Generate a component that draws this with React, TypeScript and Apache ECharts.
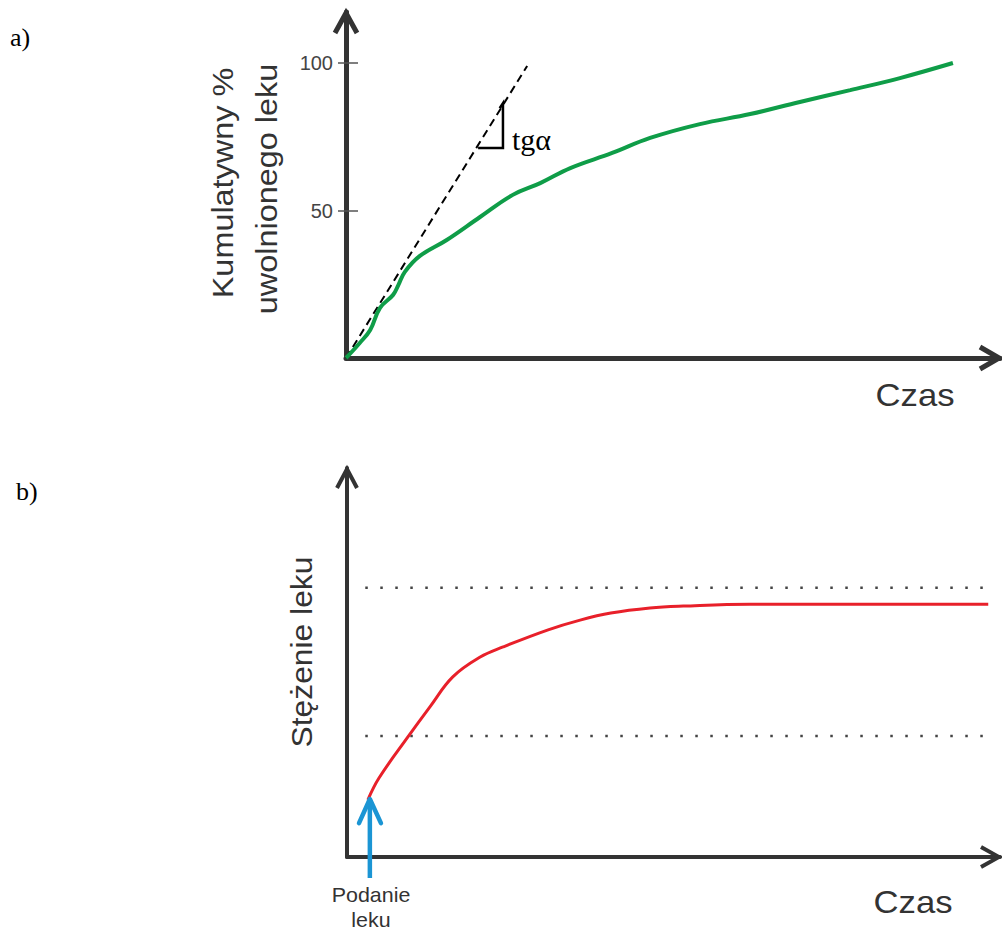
import React, { useEffect, useRef } from "react";
import * as echarts from "echarts";

// a) cumulative % of drug released over time
const releaseTime = [0, 2.1, 3.7, 5.2, 7.2, 8.0, 9.0, 11.3, 15.4, 20.5, 25.5, 29.7, 34.3, 40.7, 46.5, 54.1, 61.8, 69.4, 77.1, 84.7, 92.8];
const releasePct = [0, 5.1, 9.5, 17, 21.4, 24.7, 29.2, 34.6, 40, 47.8, 55.3, 59.3, 64.4, 69.5, 74.6, 79.3, 82.7, 86.8, 90.8, 94.9, 100];
const tangentTime = [0, 27.7];
const tangentPct = [0, 99];
const slopeMarkTime = [23.5, 24.0, 24.0, 20.2];
const slopeMarkPct = [84.7, 86.4, 71.2, 71.2];
const releaseTicks = [50, 100];

// b) drug concentration over time
const concTime = [3.2, 4.9, 9.3, 12.7, 16.2, 20.4, 23.9, 30.8, 35.7, 40.4, 46.4, 51.5, 61.7, 77.0, 98.2];
const concLevel = [14.7, 20.3, 30.8, 38.6, 46.3, 51.4, 54.0, 58.4, 60.9, 62.7, 64.0, 64.5, 65.0, 65.0, 65.0];
const levelLines = [31.1, 69.2];
const levelSpan = [2.8, 99.2];
const doseShaftTime = [3.5, 3.5];
const doseShaftLevel = [-5.4, 14.7];
const doseHeadTime = [1.84, 3.5, 5.2];
const doseHeadLevel = [8.7, 14.9, 8.7];

const zip = (xs: number[], ys: number[]) => xs.map((x, i) => [x, ys[i]]);

const AXIS = "#333333";
const SANS = "'Liberation Sans', Arial, sans-serif";
const SERIF = "'Liberation Serif', 'Times New Roman', serif";

const label = (x: number, y: number, text: string, size: number, family: string, extra: any = {}) => ({
  type: "text",
  x,
  y,
  ...extra,
  style: {
    text,
    fontSize: size,
    fontFamily: family,
    fill: extra.fill || "#333",
    textAlign: extra.align || "center",
    textVerticalAlign: "middle",
  },
});

export default function App() {
  const ref = useRef<HTMLDivElement>(null);

  useEffect(() => {
    if (!ref.current) return;
    const chart = echarts.init(ref.current, null, { renderer: "svg" });

    const hiddenAxisParts = {
      axisTick: { show: false },
      axisLabel: { show: false },
      splitLine: { show: false },
    };

    const option: any = {
      animation: false,
      backgroundColor: "#ffffff",
      grid: [
        { left: 346, top: 12, width: 654, height: 346 },
        { left: 347, top: 468, width: 653, height: 389 },
      ],
      xAxis: [
        {
          gridIndex: 0, type: "value", min: 0, max: 100,
          axisLine: { show: true, onZero: false, lineStyle: { color: AXIS, width: 5 } },
          ...hiddenAxisParts,
        },
        {
          gridIndex: 1, type: "value", min: 0, max: 100,
          axisLine: { show: true, onZero: false, lineStyle: { color: AXIS, width: 4 } },
          ...hiddenAxisParts,
        },
      ],
      yAxis: [
        {
          gridIndex: 0, type: "value", min: 0, max: 117.3,
          axisLine: { show: true, onZero: false, lineStyle: { color: AXIS, width: 5 } },
          axisTick: { show: true, customValues: releaseTicks, length: 8, lineStyle: { color: "#555", width: 1.5 } },
          axisLabel: { show: true, customValues: releaseTicks, margin: 13, fontSize: 20, color: "#444", fontFamily: SANS },
          splitLine: { show: false },
        },
        {
          gridIndex: 0, type: "value", min: 0, max: 117.3, position: "left",
          axisLine: { show: false },
          axisTick: { show: true, inside: true, customValues: releaseTicks, length: 12, lineStyle: { color: "#555", width: 1.5 } },
          axisLabel: { show: false },
          splitLine: { show: false },
        },
        {
          gridIndex: 1, type: "value", min: 0, max: 100,
          axisLine: { show: true, onZero: false, lineStyle: { color: AXIS, width: 4 } },
          ...hiddenAxisParts,
        },
      ],
      series: [
        {
          type: "line", xAxisIndex: 0, yAxisIndex: 0, data: zip(tangentTime, tangentPct),
          symbol: "none", lineStyle: { color: "#000", width: 2, type: [8, 5] }, z: 3,
        },
        {
          type: "line", xAxisIndex: 0, yAxisIndex: 0, data: zip(releaseTime, releasePct),
          symbol: "none", smooth: 0.4, lineStyle: { color: "#0f9d48", width: 4 }, z: 4,
        },
        {
          type: "line", xAxisIndex: 0, yAxisIndex: 0, data: zip(slopeMarkTime, slopeMarkPct),
          symbol: "none", lineStyle: { color: "#000", width: 2.5, join: "miter" }, z: 4,
        },
        ...levelLines.map((lv) => ({
          type: "line", xAxisIndex: 1, yAxisIndex: 2,
          data: zip(levelSpan, [lv, lv]),
          symbol: "none", lineStyle: { color: "#444", width: 2.5, type: [2.5, 12.5] }, z: 2,
        })),
        {
          type: "line", xAxisIndex: 1, yAxisIndex: 2, data: zip(concTime, concLevel),
          symbol: "none", smooth: 0.4, lineStyle: { color: "#e8202a", width: 3 }, z: 4,
        },
        {
          type: "line", xAxisIndex: 1, yAxisIndex: 2, data: zip(doseShaftTime, doseShaftLevel),
          symbol: "none", clip: false, lineStyle: { color: "#1b95d4", width: 4.5 }, z: 6,
        },
        {
          type: "line", xAxisIndex: 1, yAxisIndex: 2, data: zip(doseHeadTime, doseHeadLevel),
          symbol: "none", clip: false, lineStyle: { color: "#1b95d4", width: 4.5, cap: "round", join: "round" }, z: 6,
        },
      ],
      graphic: [
        // arrowheads on the axes
        { type: "polyline", shape: { points: [[335, 33], [346, 13], [357, 33]] }, style: { stroke: AXIS, lineWidth: 5, fill: null, lineJoin: "miter" }, z: 10 },
        { type: "polyline", shape: { points: [[980, 347], [999, 358], [980, 369]] }, style: { stroke: AXIS, lineWidth: 5, fill: null, lineJoin: "miter" }, z: 10 },
        { type: "polyline", shape: { points: [[337, 488], [347, 469], [357, 488]] }, style: { stroke: AXIS, lineWidth: 4, fill: null, lineJoin: "miter" }, z: 10 },
        { type: "polyline", shape: { points: [[981, 847], [999, 857], [981, 867]] }, style: { stroke: AXIS, lineWidth: 4, fill: null, lineJoin: "miter" }, z: 10 },

        // panel letters
        label(10, 37, "a)", 26, SERIF, { align: "left", fill: "#000" }),
        label(16, 491, "b)", 26, SERIF, { align: "left", fill: "#000" }),

        // panel a titles
        label(223, 183, "Kumulatywny %", 30, SANS, { rotation: Math.PI / 2, scaleX: 1.08 }),
        label(267, 189, "uwolnionego leku", 30, SANS, { rotation: Math.PI / 2, scaleX: 1.08 }),
        label(915, 395, "Czas", 31, SANS, { scaleX: 1.12 }),
        label(512, 139, "tgα", 30, SERIF, { align: "left", fill: "#000" }),

        // panel b titles
        label(302, 652, "Stężenie leku", 30, SANS, { rotation: Math.PI / 2, scaleX: 1.06 }),
        label(913, 902, "Czas", 31, SANS, { scaleX: 1.12 }),
        label(371, 895, "Podanie", 21, SANS, { scaleX: 1.02 }),
        label(371, 920, "leku", 21, SANS, { scaleX: 1.02 }),
      ],
    };

    chart.setOption(option);
    return () => chart.dispose();
  }, []);

  return (
    <div
      ref={ref}
      style={{ position: "fixed", left: 0, top: 0, width: 1002, height: 931, background: "#fff" }}
    />
  );
}
